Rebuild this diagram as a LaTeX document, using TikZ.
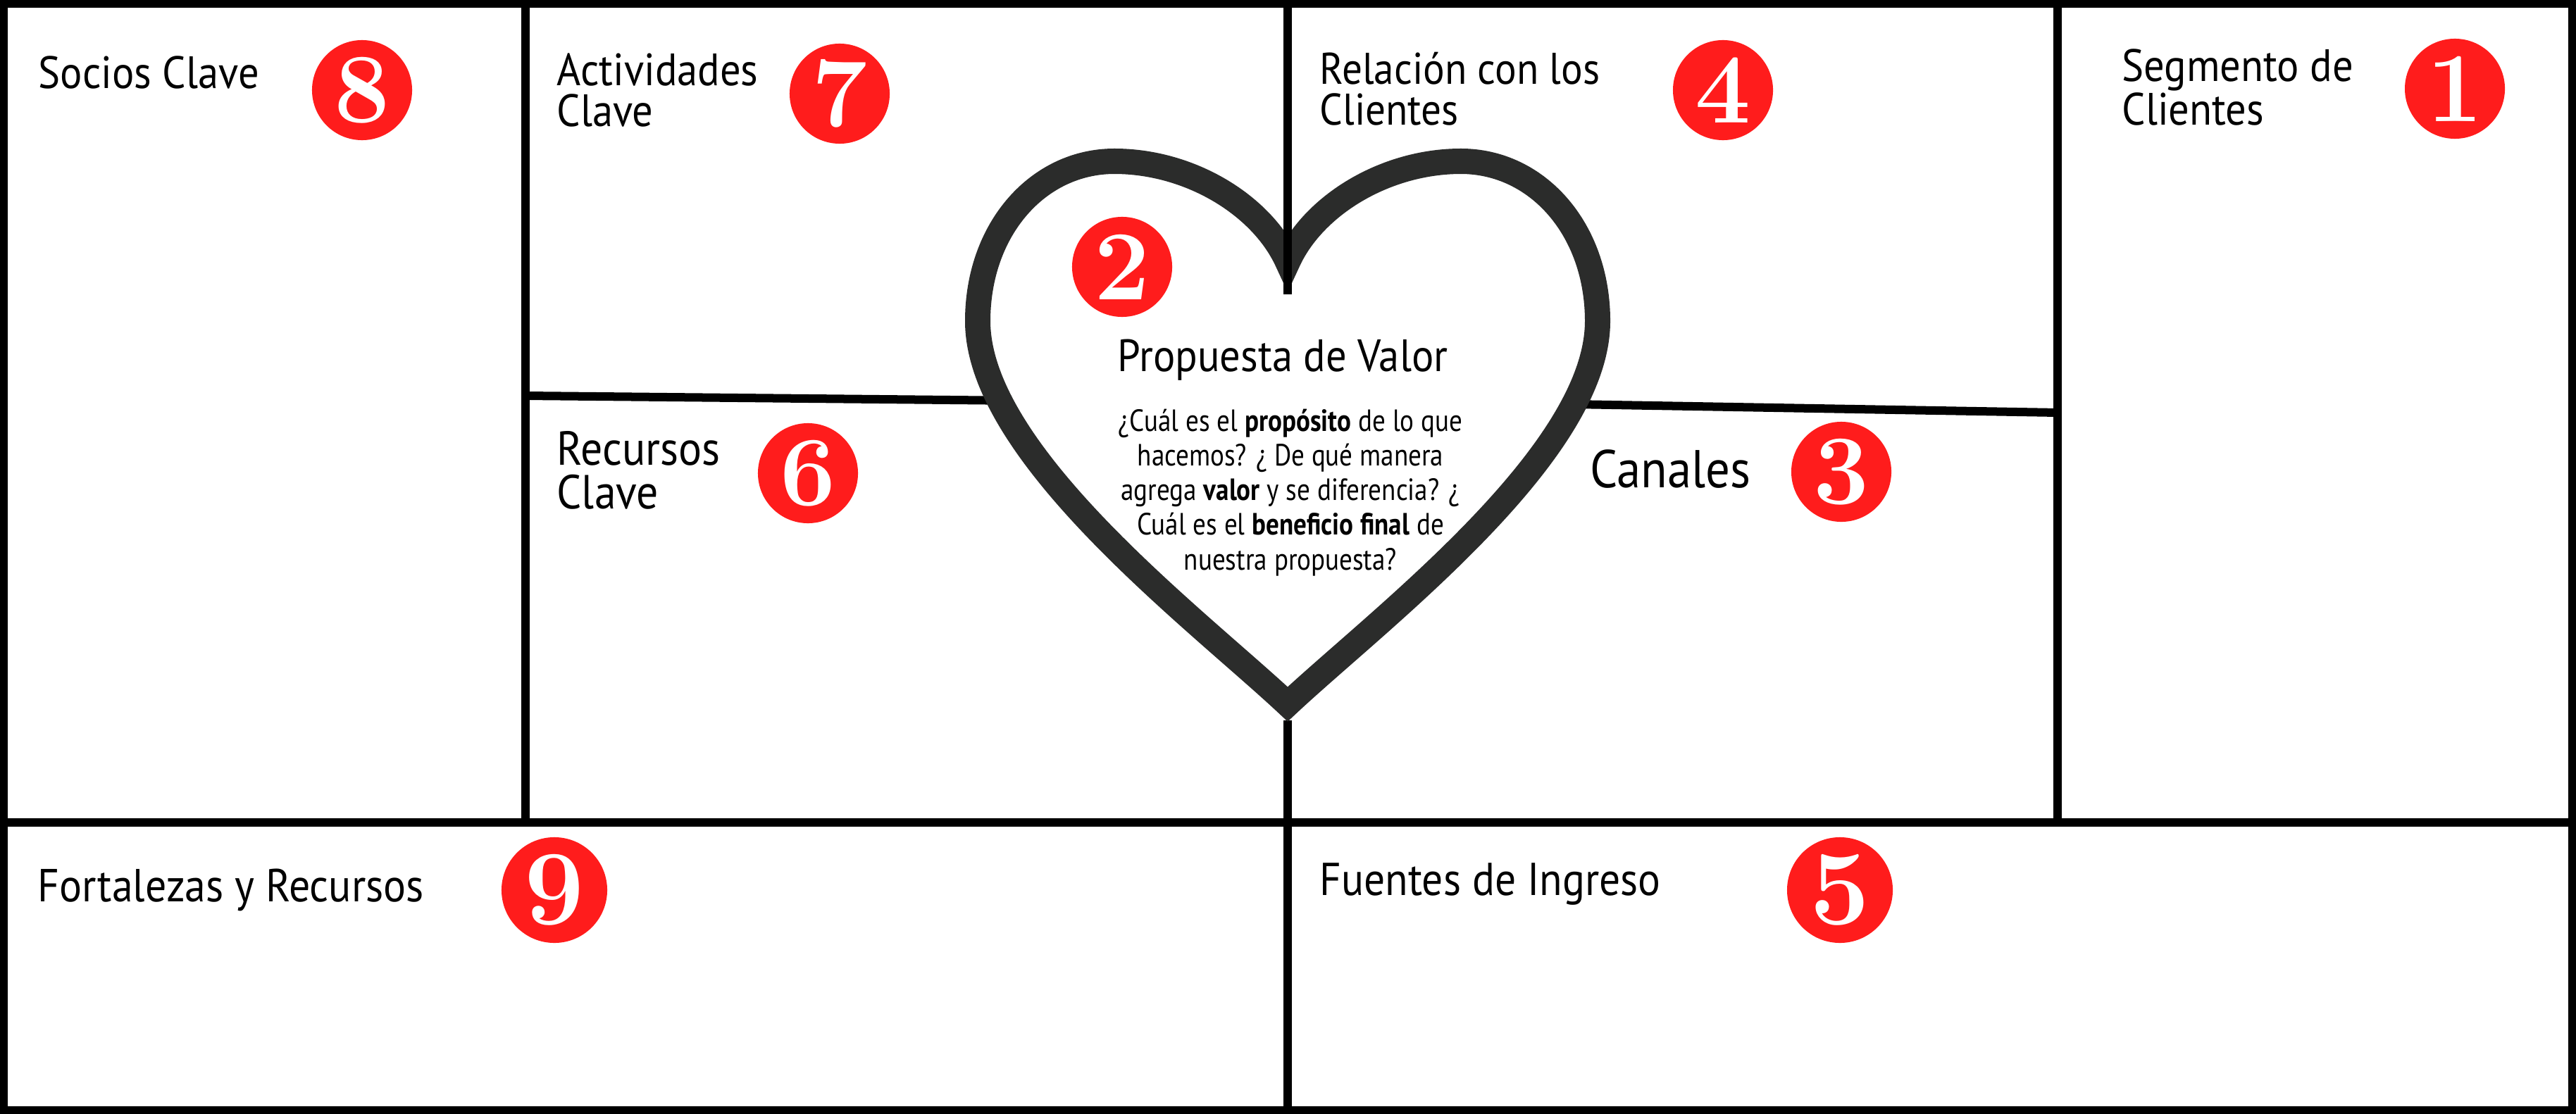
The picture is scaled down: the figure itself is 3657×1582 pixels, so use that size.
\documentclass[tikz,border=0pt]{standalone}
\usepackage{fontspec}
\setsansfont{PT Sans}[FakeStretch=0.91]
\newfontfamily\bodyfont{PT Sans}[FakeStretch=0.85]
\definecolor{numred}{RGB}{255,28,28}
\definecolor{heartgray}{RGB}{43,44,43}
\begin{document}
\begin{tikzpicture}[x=0.01cm,y=-0.01cm,
  gridline/.style={line width=0.12cm, black},
  num/.style={circle, fill=numred, minimum size=1.42cm, inner sep=0pt, text=white, font=\rmfamily\bfseries\fontsize{40}{40}\selectfont},
  bignum/.style={num, minimum size=1.5cm, font=\rmfamily\bfseries\fontsize{43}{43}\selectfont},
  lbl/.style={anchor=base west, inner sep=0pt, align=left, font=\sffamily\fontsize{18.3}{16.5}\selectfont},
  title/.style={anchor=base, inner sep=0pt, font=\sffamily\fontsize{18.3}{18.3}\selectfont},
  body/.style={anchor=base, inner sep=0pt, align=center, font=\bodyfont\fontsize{12.4}{13.94}\selectfont}]
\useasboundingbox (0,0) rectangle (3657,1582);
\fill[white] (0,0) rectangle (3657,1582);
% grid coordinates
\coordinate (midL) at (0,1168);
\coordinate (midR) at (3657,1168);
\coordinate (v1t) at (746,0);
\coordinate (v1b) at (746,1168);
\coordinate (v3t) at (2921,0);
\coordinate (v3b) at (2921,1168);
\coordinate (v2t) at (1828,0);
\coordinate (v2n) at (1828,418);
\coordinate (v2s) at (1828,1023);
\coordinate (v2b) at (1828,1582);
\coordinate (hlA) at (746,562);
\coordinate (hlB) at (1500,569.5);
\coordinate (hrA) at (2150,572.6);
\coordinate (hrB) at (2921,586);
% grid
\draw[gridline] (midL) -- (midR);
\draw[gridline] (v1t) -- (v1b);
\draw[gridline] (v3t) -- (v3b);
\draw[gridline] (v2s) -- (v2b);
\draw[gridline] (hlA) -- (hlB);
\draw[gridline] (hrA) -- (hrB);
\draw[line width=0.11cm] (5.5,5.5) rectangle (3651.5,1576.5);
% heart
\draw[heartgray, fill=white, line width=0.36cm, line join=miter, miter limit=20]
  (1828,1000) .. controls (1700,880) and (1388,645) .. (1388,456)
  .. controls (1388,325) and (1474,229) .. (1582,229)
  .. controls (1690,229) and (1792,292) .. (1828,372)
  .. controls (1864,292) and (1966,229) .. (2074,229)
  .. controls (2182,229) and (2268,325) .. (2268,456)
  .. controls (2268,645) and (1956,880) .. (1828,1000) -- cycle;
\draw[gridline] (v2t) -- (v2n);
% labels
\node[lbl] (socios) at (54,126) {Socios Clave};
\node[lbl] (activ) at (790,180) {Actividades\\Clave};
\node[lbl, font=\sffamily\fontsize{17.9}{16.5}\selectfont] (relac) at (1873,178) {Relación con los\\Clientes};
\node[lbl] (segm) at (3012,178) {Segmento de\\Clientes};
\node[lbl, font=\sffamily\fontsize{19.3}{17.4}\selectfont] (recur) at (790,722) {Recursos\\Clave};
\node[lbl, font=\sffamily\fontsize{21.5}{21.5}\selectfont] (canal) at (2257,692) {Canales};
\node[lbl, font=\sffamily\fontsize{18.7}{16.5}\selectfont] (fortal) at (53,1280) {Fortalezas y Recursos};
\node[lbl, font=\sffamily\fontsize{18.6}{16.5}\selectfont] (fuent) at (1873,1271) {Fuentes de Ingreso};
\node[title] (pvtitle) at (1821,527) {Propuesta de Valor};
\node[body] (pvtext) at (1832,809) {¿Cuál es el \textbf{propósito} de lo que\\hacemos? ¿ De qué manera\\agrega \textbf{valor} y se diferencia? ¿\\Cuál es el \textbf{beneficio final} de\\nuestra propuesta?};
% numbers
\node[num] (n8) at (514,128) {8};
\node[num] (n7) at (1192,133) {7};
\node[num] (n4) at (2446,128) {4};
\node[num] (n1) at (3485,126) {1};
\node[num] (n2) at (1593,379) {2};
\node[num] (n6) at (1147,672) {6};
\node[num] (n3) at (2614,670) {3};
\node[bignum] (n9) at (787,1264) {9};
\node[bignum] (n5) at (2612,1264) {5};
\end{tikzpicture}
\end{document}
